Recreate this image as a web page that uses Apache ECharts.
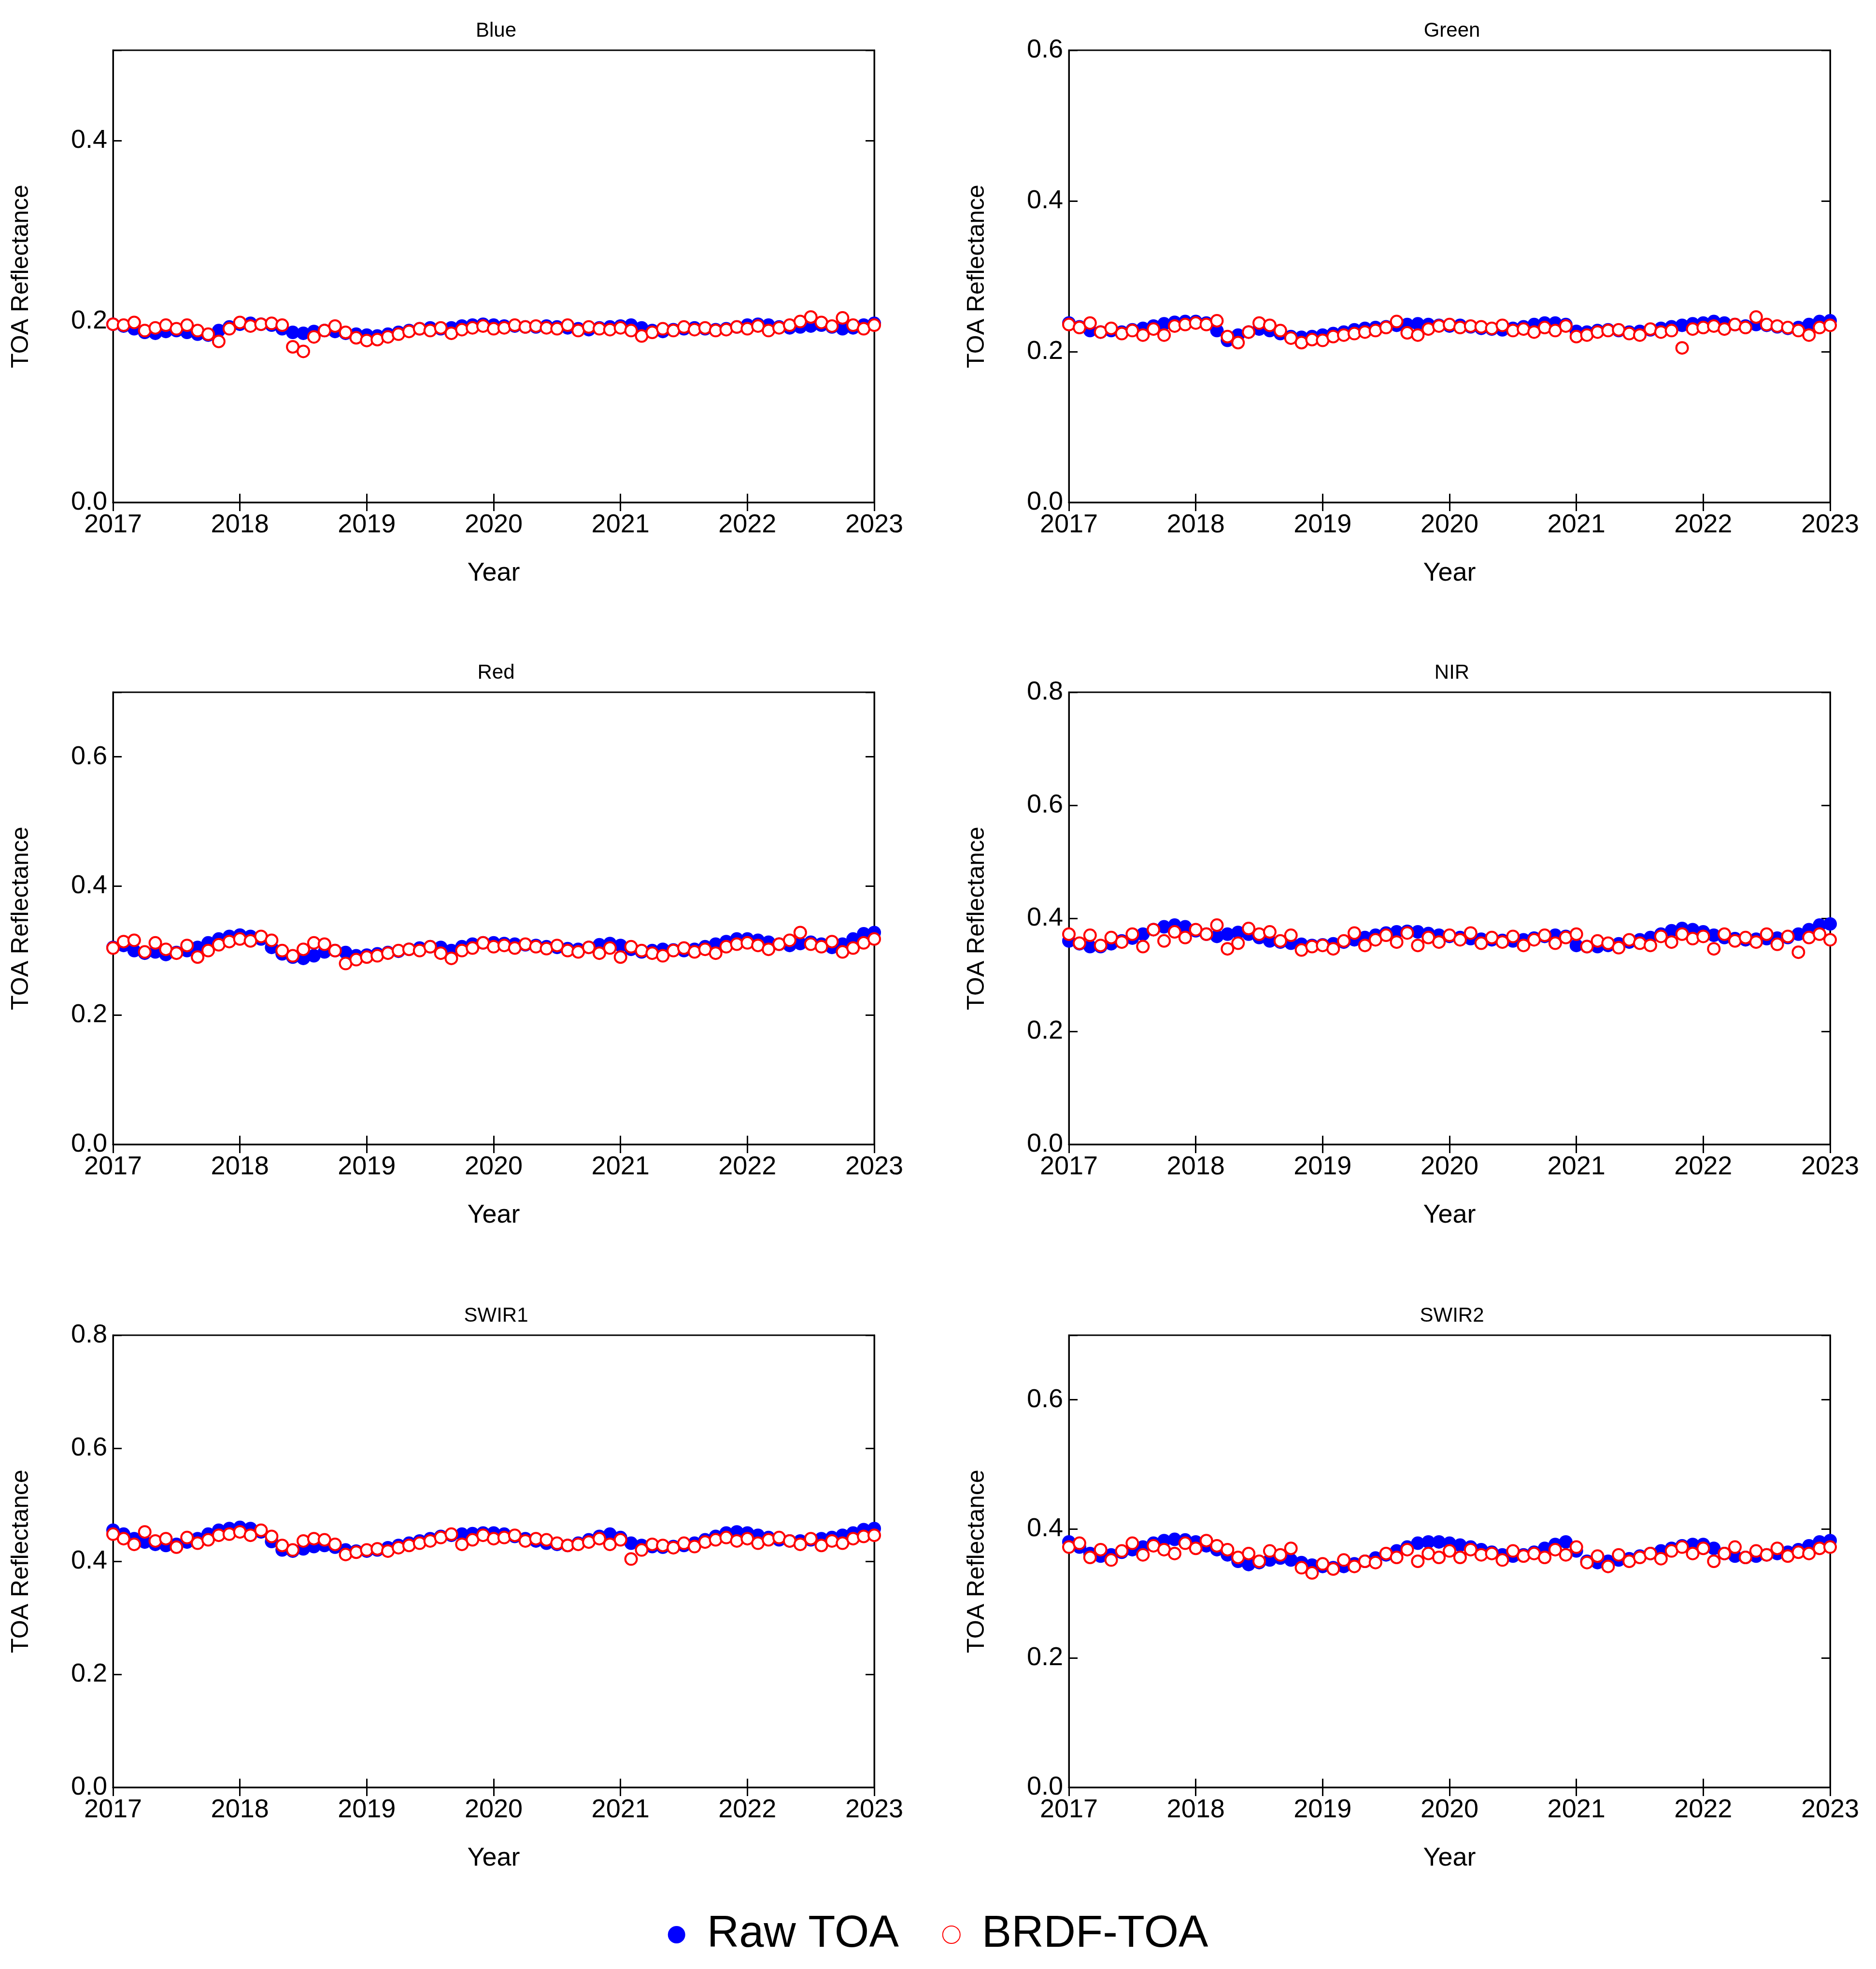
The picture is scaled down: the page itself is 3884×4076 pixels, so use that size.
<!DOCTYPE html>
<html><head><meta charset="utf-8">
<script src="https://cdn.jsdelivr.net/npm/echarts@6/dist/echarts.min.js"></script>
<style>html,body{margin:0;padding:0;background:#fff}#c{width:3884px;height:4076px}</style>
</head><body><div id="c"></div>
<script>
const panelNames = ['Blue','Green','Red','NIR','SWIR1','SWIR2'];
const yMax = [0.5,0.6,0.7,0.8,0.8,0.7];
const xTicks = [2017,2018,2019,2020,2021,2022,2023];
const rawBlue = [.197,.195,.192,.188,.187,.189,.190,.188,.186,.185,.190,.194,.197,.198,.197,.196,.192,.188,.187,.189,.190,.189,.187,.186,.185,.184,.186,.188,.190,.192,.193,.192,.193,.195,.196,.197,.196,.195,.195,.194,.194,.195,.194,.193,.192,.191,.193,.194,.195,.196,.193,.190,.189,.191,.192,.193,.192,.191,.192,.194,.196,.197,.196,.194,.193,.194,.195,.196,.194,.192,.193,.196,.198];
const brdfBlue = [.197,.196,.199,.190,.193,.196,.192,.196,.190,.186,.178,.192,.199,.195,.197,.198,.196,.172,.167,.183,.190,.195,.188,.182,.179,.180,.183,.186,.189,.192,.190,.193,.187,.191,.193,.195,.192,.193,.196,.194,.195,.193,.192,.196,.190,.194,.192,.191,.193,.190,.184,.188,.192,.190,.194,.191,.193,.190,.191,.194,.192,.195,.190,.193,.196,.200,.205,.199,.195,.204,.196,.192,.196];
const rawGreen = [.238,.233,.228,.226,.228,.226,.229,.231,.234,.237,.239,.240,.240,.238,.228,.215,.222,.226,.230,.228,.224,.220,.219,.220,.222,.224,.226,.229,.231,.232,.233,.235,.236,.237,.236,.235,.234,.235,.233,.231,.230,.229,.231,.233,.236,.238,.238,.236,.227,.226,.228,.229,.228,.226,.227,.229,.231,.233,.235,.237,.238,.240,.238,.236,.234,.236,.235,.233,.231,.232,.236,.240,.241];
const brdfGreen = [.236,.232,.238,.226,.231,.224,.228,.222,.230,.222,.234,.236,.238,.236,.241,.220,.212,.226,.238,.235,.228,.218,.212,.216,.215,.220,.222,.224,.226,.228,.232,.240,.225,.222,.230,.234,.236,.232,.234,.233,.231,.235,.228,.230,.226,.232,.228,.234,.220,.222,.226,.228,.229,.224,.222,.230,.226,.228,.205,.230,.232,.234,.230,.236,.232,.246,.236,.234,.232,.228,.222,.232,.235];
const rawRed = [.305,.308,.300,.296,.298,.294,.297,.300,.305,.312,.318,.322,.324,.322,.318,.305,.295,.290,.288,.292,.298,.300,.297,.292,.293,.295,.297,.299,.302,.304,.306,.305,.300,.306,.310,.312,.312,.311,.310,.309,.308,.306,.305,.303,.302,.305,.309,.311,.308,.302,.298,.300,.302,.301,.300,.302,.306,.310,.314,.318,.318,.316,.313,.310,.308,.311,.313,.310,.305,.310,.318,.326,.328];
const brdfRed = [.304,.314,.316,.298,.312,.302,.296,.308,.290,.300,.309,.314,.318,.315,.322,.316,.300,.292,.302,.312,.310,.300,.280,.286,.290,.292,.296,.300,.302,.300,.306,.296,.288,.300,.304,.312,.306,.308,.304,.310,.306,.303,.308,.300,.298,.305,.296,.304,.290,.306,.300,.296,.292,.300,.304,.298,.302,.296,.306,.310,.312,.308,.302,.310,.316,.328,.310,.306,.314,.298,.304,.312,.318];
const rawNIR = [.360,.355,.350,.350,.355,.360,.365,.372,.380,.385,.388,.385,.378,.372,.368,.372,.375,.372,.366,.360,.358,.356,.354,.352,.353,.355,.358,.362,.366,.370,.374,.376,.377,.376,.373,.370,.368,.366,.364,.363,.362,.361,.360,.362,.365,.368,.370,.368,.352,.350,.350,.352,.355,.358,.362,.366,.372,.378,.382,.380,.376,.370,.366,.364,.362,.363,.364,.365,.366,.372,.380,.388,.390];
const brdfNIR = [.372,.356,.370,.352,.366,.358,.372,.350,.380,.360,.376,.366,.380,.372,.388,.346,.356,.382,.372,.376,.360,.370,.344,.350,.352,.346,.360,.374,.352,.362,.370,.358,.374,.352,.366,.358,.370,.362,.374,.356,.366,.358,.368,.352,.362,.370,.356,.366,.372,.350,.360,.356,.348,.362,.356,.352,.368,.358,.372,.364,.368,.346,.372,.360,.366,.358,.372,.354,.368,.340,.366,.372,.362];
const rawSWIR1 = [.455,.448,.440,.434,.430,.428,.430,.434,.440,.448,.455,.458,.460,.458,.452,.435,.420,.418,.422,.426,.428,.425,.420,.418,.418,.420,.424,.428,.432,.436,.440,.444,.446,.448,.449,.450,.450,.448,.444,.440,.436,.432,.430,.428,.432,.438,.444,.448,.442,.432,.428,.426,.425,.426,.428,.432,.438,.444,.450,.452,.450,.446,.442,.438,.436,.436,.438,.440,.442,.446,.450,.456,.458];
const brdfSWIR1 = [.448,.440,.430,.452,.436,.440,.425,.442,.432,.438,.446,.448,.452,.446,.455,.444,.428,.420,.436,.440,.438,.430,.412,.416,.420,.422,.418,.424,.428,.432,.436,.442,.448,.430,.438,.446,.440,.442,.446,.436,.440,.438,.432,.428,.430,.434,.440,.430,.438,.404,.420,.430,.428,.424,.432,.426,.434,.438,.442,.436,.440,.432,.438,.442,.436,.430,.440,.428,.436,.432,.440,.444,.446];
const rawSWIR2 = [.380,.372,.362,.358,.360,.364,.368,.372,.378,.382,.384,.383,.380,.374,.368,.360,.350,.345,.348,.352,.355,.352,.348,.344,.342,.340,.342,.346,.350,.355,.360,.366,.372,.378,.380,.380,.378,.375,.372,.368,.364,.360,.358,.360,.364,.370,.376,.380,.366,.350,.348,.350,.352,.354,.358,.362,.366,.370,.374,.376,.376,.370,.362,.358,.356,.358,.360,.362,.364,.368,.374,.380,.382];
const brdfSWIR2 = [.372,.378,.356,.368,.352,.366,.378,.360,.374,.368,.362,.378,.370,.382,.374,.368,.356,.362,.350,.366,.360,.370,.340,.332,.346,.338,.352,.342,.350,.348,.362,.356,.368,.350,.362,.356,.366,.356,.368,.360,.362,.352,.366,.358,.362,.356,.368,.360,.372,.348,.358,.342,.360,.350,.356,.362,.354,.366,.372,.362,.370,.350,.362,.372,.356,.366,.360,.370,.358,.364,.362,.370,.372];
const rawAll = [rawBlue,rawGreen,rawRed,rawNIR,rawSWIR1,rawSWIR2];
const brdfAll = [brdfBlue,brdfGreen,brdfRed,brdfNIR,brdfSWIR1,brdfSWIR2];
const times = rawBlue.map((_, i) => 2017 + i / 12);

const lefts = [234, 2213], tops = [104, 1433, 2764], W = 1576, H = 936;
const font = 'Liberation Sans';
const grid = [], xAxis = [], yAxis = [], series = [], title = [];
panelNames.forEach((name, p) => {
  const L = lefts[p % 2], T = tops[Math.floor(p / 2)];
  grid.push({left: L, top: T, width: W, height: H, show: true, borderColor: '#000', borderWidth: 3});
  title.push({text: name, left: L + W / 2, top: T - 66, textAlign: 'center',
    textStyle: {fontFamily: font, fontSize: 42, fontWeight: 'normal', color: '#000'}});
  const tick = {show: true, inside: true, length: 18, lineStyle: {color: '#000', width: 3}};
  xAxis.push({type: 'value', gridIndex: p, min: 2017, max: 2023, interval: 1,
    name: 'Year', nameLocation: 'middle', nameGap: 120,
    nameTextStyle: {fontFamily: font, fontSize: 54, color: '#000'},
    axisLine: {lineStyle: {color: '#000', width: 3}}, axisTick: tick, splitLine: {show: false},
    axisLabel: {fontFamily: font, fontSize: 54, color: '#000', margin: 20, formatter: v => String(v)}});
  xAxis.push({type: 'value', gridIndex: p, position: 'top', min: 2017, max: 2023, interval: 1,
    axisLine: {lineStyle: {color: '#000', width: 3}}, axisTick: tick, splitLine: {show: false}, axisLabel: {show: false}});
  yAxis.push({type: 'value', gridIndex: p, min: 0, max: yMax[p], interval: 0.2,
    name: 'TOA Reflectance', nameLocation: 'middle', nameGap: 165,
    nameTextStyle: {fontFamily: font, fontSize: 50, color: '#000'},
    axisLine: {lineStyle: {color: '#000', width: 3}}, axisTick: tick, splitLine: {show: false},
    axisLabel: {fontFamily: font, fontSize: 54, color: '#000', margin: 12,
      formatter: v => (Math.abs(v / 0.2 - Math.round(v / 0.2)) < 1e-6 ? v.toFixed(1) : '')}});
  yAxis.push({type: 'value', gridIndex: p, position: 'right', min: 0, max: yMax[p], interval: 0.2,
    axisLine: {lineStyle: {color: '#000', width: 3}}, axisTick: tick, splitLine: {show: false}, axisLabel: {show: false}});
  series.push({name: 'Raw TOA', type: 'scatter', xAxisIndex: 2 * p, yAxisIndex: 2 * p,
    data: rawAll[p].map((v, i) => [times[i], v]), symbolSize: 28,
    itemStyle: {color: '#0000ff', opacity: 1}});
  series.push({name: 'BRDF-TOA', type: 'scatter', xAxisIndex: 2 * p, yAxisIndex: 2 * p,
    data: brdfAll[p].map((v, i) => [times[i], v]), symbolSize: 24,
    itemStyle: {color: '#fff', borderColor: '#ff0000', borderWidth: 4, opacity: 1}});
});
const chart = echarts.init(document.getElementById('c'));
chart.setOption({
  animation: false, backgroundColor: '#fff', title, grid, xAxis, yAxis, series,
  legend: {data: ['Raw TOA', 'BRDF-TOA'], bottom: 20, left: 'center', itemGap: 90, itemWidth: 36, itemHeight: 36,
    textStyle: {fontFamily: 'Liberation Sans Narrow, Liberation Sans', fontSize: 92, color: '#000', padding: [0, 0, 0, 40]}}
});
</script></body></html>
